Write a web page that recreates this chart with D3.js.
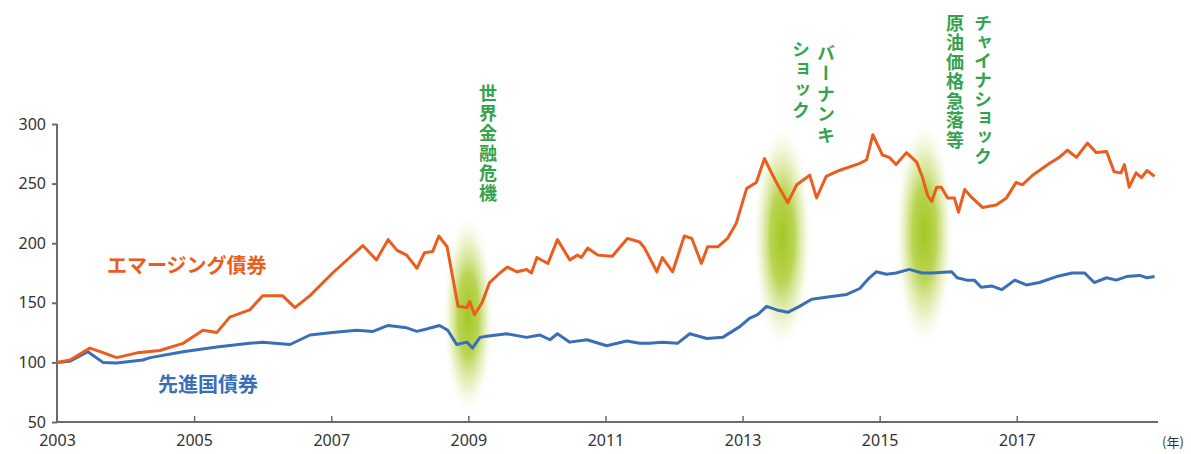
<!DOCTYPE html>
<html>
<head>
<meta charset="utf-8">
<script src="https://cdn.jsdelivr.net/npm/d3@7"></script>
<style>
  body { margin: 0; background: #fff; }
  svg text { font-family: "Noto Sans", "Noto Sans CJK JP", sans-serif; }
  .jp { font-family: "Noto Sans CJK JP", sans-serif; font-weight: 700; }
</style>
</head>
<body>
<svg id="chart" width="1191" height="454"></svg>
<script>
// emerging market bonds (orange) - decimal year / index
var emYears = [2003.00,2003.19,2003.48,2003.63,2003.87,2004.17,2004.50,2004.84,2005.13,2005.33,2005.52,2005.81,2006.00,2006.29,2006.47,2006.69,2007.02,2007.27,2007.46,2007.66,2007.83,2007.96,2008.10,2008.25,2008.36,2008.48,2008.57,2008.69,2008.77,2008.85,2008.98,2009.02,2009.09,2009.20,2009.31,2009.46,2009.57,2009.71,2009.85,2009.92,2010.00,2010.16,2010.30,2010.48,2010.59,2010.65,2010.74,2010.89,2011.10,2011.32,2011.50,2011.57,2011.75,2011.83,2011.98,2012.15,2012.26,2012.40,2012.49,2012.64,2012.78,2012.91,2013.06,2013.20,2013.32,2013.44,2013.54,2013.66,2013.79,2013.98,2014.08,2014.22,2014.41,2014.71,2014.81,2014.90,2015.04,2015.14,2015.24,2015.39,2015.54,2015.62,2015.70,2015.76,2015.83,2015.90,2015.99,2016.09,2016.15,2016.24,2016.35,2016.50,2016.70,2016.85,2016.99,2017.08,2017.23,2017.48,2017.62,2017.74,2017.87,2018.03,2018.16,2018.31,2018.42,2018.52,2018.57,2018.64,2018.74,2018.82,2018.90,2019.01];
var emValues = [100,102,112,109,104,108,110,116,127,125,138,144,156,156,146,156,175,188,198,186,203,194,190,179,192,193,206,197,172,147,146,151,140,150,167,175,180,176,178,175,188,183,203,186,190,188,196,190,189,204,201,196,176,188,176,206,204,183,197,197,204,217,246,251,271,257,246,234,249,257,238,256,261,267,270,291,274,272,266,276,268,256,240,235,247,247,238,238,226,245,238,230,232,238,251,249,257,267,272,278,272,284,276,277,260,259,266,247,259,255,261,256];

// developed market bonds (blue)
var dmYears = [2003.00,2003.19,2003.45,2003.67,2003.87,2004.25,2004.36,2004.84,2005.33,2005.81,2006.00,2006.40,2006.69,2007.02,2007.37,2007.61,2007.83,2008.10,2008.25,2008.39,2008.58,2008.70,2008.83,2008.98,2009.06,2009.17,2009.27,2009.56,2009.85,2010.04,2010.19,2010.30,2010.48,2010.73,2011.02,2011.31,2011.50,2011.64,2011.83,2012.05,2012.23,2012.48,2012.71,2012.96,2013.10,2013.22,2013.35,2013.50,2013.66,2013.83,2014.01,2014.27,2014.52,2014.71,2014.85,2014.95,2015.10,2015.24,2015.43,2015.62,2015.77,2016.05,2016.13,2016.27,2016.38,2016.48,2016.64,2016.78,2016.97,2017.14,2017.33,2017.58,2017.81,2017.99,2018.13,2018.31,2018.45,2018.60,2018.79,2018.90,2019.01];
var dmValues = [100,101,109,100,99.5,102,104,109,113,116,117,115,123,125,127,126,131,129,126,128,131,127,115,117,112,121,122,124,121,123,119,124,117,119,114,118,116,116,117,116,124,120,121,130,137,140,147,144,142,147,153,155,157,162,171,176,174,175,178,175,175,176,171,169,169,163,164,161,169,165,167,172,175,175,167,171,169,172,173,171,172];

var yTicks = [50,100,150,200,250,300];
var xTicks = [2003,2005,2007,2009,2011,2013,2015,2017];

// event bands: center year and vertical extent in index units
var eventYears = [2009.0, 2013.58, 2015.65];
var eventLow = [54, 108, 111];
var eventHigh = [226, 302, 306];
var eventLabels = [["世界金融危機"], ["バーナンキ","ショック"], ["チャイナショック","原油価格急落等"]];

var svg = d3.select('#chart');
var x = d3.scaleLinear().domain([2003, 2019.06]).range([57, 1158]);
var y = d3.scaleLinear().domain([50, 300]).range([422, 124]);

var orange = '#ea5d1e', blue = '#3a6fb8', green = '#35a24e', axisCol = '#6b6b6b';

// glow gradient
var defs = svg.append('defs');
var grad = defs.append('radialGradient').attr('id','glow');
grad.append('stop').attr('offset','0%').attr('stop-color','#9cc418').attr('stop-opacity',0.95);
grad.append('stop').attr('offset','40%').attr('stop-color','#a8ca28').attr('stop-opacity',0.8);
grad.append('stop').attr('offset','70%').attr('stop-color','#cfe182').attr('stop-opacity',0.45);
grad.append('stop').attr('offset','100%').attr('stop-color','#ffffff').attr('stop-opacity',0);

eventYears.forEach(function(ev,i){
  svg.append('ellipse')
    .attr('cx', x(ev))
    .attr('cy', (y(eventLow[i]) + y(eventHigh[i]))/2)
    .attr('rx', i==0 ? 26 : 30)
    .attr('ry', (y(eventLow[i]) - y(eventHigh[i]))/2)
    .attr('fill','url(#glow)');
});

// axes
var yAxis = d3.axisLeft(y).tickValues(yTicks).tickSize(5).tickPadding(6);
var gy = svg.append('g').attr('transform','translate(57,0)').call(yAxis);
gy.select('.domain').attr('stroke',axisCol).attr('stroke-width',2).attr('d','M0,124V422');
gy.selectAll('.tick line').attr('stroke',axisCol).attr('stroke-width',2);
gy.selectAll('.tick text').attr('fill','#333').style('font-size','16px');

var xAxis = d3.axisBottom(x).tickValues(xTicks).tickSize(0).tickPadding(13).tickFormat(d3.format('d'));
var gx = svg.append('g').attr('transform','translate(0,422)').call(xAxis);
gx.select('.domain').attr('stroke',axisCol).attr('stroke-width',2).attr('d','M57,0H1158');
gx.selectAll('.tick text').attr('fill','#333').style('font-size','16px');
gx.selectAll('.tick').filter(function(d){return d>2003;})
  .append('line').attr('y1',0).attr('y2',-6).attr('stroke',axisCol).attr('stroke-width',1.5);
svg.append('text').attr('x',1173).attr('y',447).attr('text-anchor','middle')
  .attr('fill','#333').style('font-size','13px').attr('class','jp').style('font-weight','400').text('(年)');

// lines
var line = d3.line().x(function(d){return x(d[0]);}).y(function(d){return y(d[1]);}).curve(d3.curveLinear);
svg.append('path').datum(d3.zip(dmYears, dmValues))
  .attr('d', line).attr('fill','none').attr('stroke',blue).attr('stroke-width',3).attr('stroke-linejoin','round');
svg.append('path').datum(d3.zip(emYears, emValues))
  .attr('d', line).attr('fill','none').attr('stroke',orange).attr('stroke-width',3).attr('stroke-linejoin','round');

// series labels
svg.append('text').attr('class','jp').attr('x',107).attr('y',273).attr('fill',orange)
  .style('font-size','20px').text('エマージング債券');
svg.append('text').attr('class','jp').attr('x',158).attr('y',392).attr('fill',blue)
  .style('font-size','20px').text('先進国債券');

// event labels (vertical)
var labelPos = [[[488,84]], [[826,44],[801,40]], [[983,14],[955,14]]];
var labelSpacing = [[2],[2.5,2.5],[1,1.5]];
eventLabels.forEach(function(lines,i){
  lines.forEach(function(t,j){
    svg.append('text').attr('class','jp')
      .attr('x', labelPos[i][j][0]).attr('y', labelPos[i][j][1])
      .style('writing-mode','vertical-rl')
      .style('font-size','18px')
      .style('letter-spacing', labelSpacing[i][j] + 'px')
      .attr('fill', green)
      .text(t);
  });
});
</script>
</body>
</html>
